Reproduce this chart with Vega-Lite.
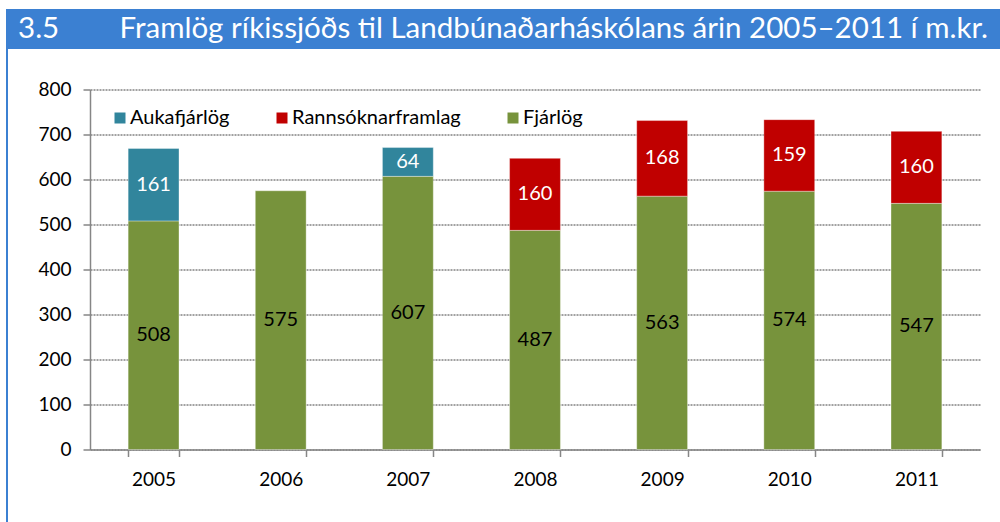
{
  "$schema": "https://vega.github.io/schema/vega-lite/v6.json",
  "padding": {"left": 6, "top": 9, "right": 0, "bottom": 0},
  "background": "white",
  "spacing": 0,
  "config": {"font": "Lato", "view": {"stroke": null}},
  "vconcat": [
    {
      "width": 994,
      "height": 40,
      "data": {"values": [{"title": "3.5\u00a0\u00a0\u00a0\u00a0\u00a0\u00a0\u00a0\u00a0Framlög ríkissjóðs til Landbúnaðarháskólans árin 2005–2011 í m.kr."}]},
      "layer": [
        {"mark": {"type": "rect", "color": "#3b80d2"}, "encoding": {}},
        {"mark": {"type": "text", "color": "white", "fontSize": 29.5, "baseline": "middle"}, "encoding": {"text": {"field": "title"}}}
      ]
    },
    {
      "spacing": 29,
      "hconcat": [
        {
          "width": 2,
          "height": 473,
          "data": {"values": [{}]},
          "mark": {"type": "rect", "color": "#3b80d2"},
          "encoding": {}
        },
        {
          "spacing": 11.5,
          "vconcat": [
            {
              "width": 1,
              "height": 20,
              "data": {"values": [{}]},
              "mark": {"type": "rect", "opacity": 0},
              "encoding": {}
            },
            {
              "width": 890,
              "height": 360,
              "data": {"values": [
                {"year": "2005", "type": "Fjárlög", "value": 508},
                {"year": "2005", "type": "Aukafjárlög", "value": 161},
                {"year": "2006", "type": "Fjárlög", "value": 575},
                {"year": "2007", "type": "Fjárlög", "value": 607},
                {"year": "2007", "type": "Aukafjárlög", "value": 64},
                {"year": "2008", "type": "Fjárlög", "value": 487},
                {"year": "2008", "type": "Rannsóknarframlag", "value": 160},
                {"year": "2009", "type": "Fjárlög", "value": 563},
                {"year": "2009", "type": "Rannsóknarframlag", "value": 168},
                {"year": "2010", "type": "Fjárlög", "value": 574},
                {"year": "2010", "type": "Rannsóknarframlag", "value": 159},
                {"year": "2011", "type": "Fjárlög", "value": 547},
                {"year": "2011", "type": "Rannsóknarframlag", "value": 160}
              ]},
              "encoding": {
                "x": {
                  "field": "year", "type": "ordinal",
                  "scale": {"paddingInner": 0.6, "paddingOuter": 0.3},
                  "axis": {"title": null, "labelAngle": 0, "tickBand": "extent", "domainColor": "#868686", "domainWidth": 1.5, "tickColor": "#868686", "tickWidth": 1.5, "tickSize": 7, "labelFontSize": 19, "labelColor": "black", "labelPadding": 14}
                },
                "y": {
                  "field": "value", "type": "quantitative", "stack": "zero",
                  "scale": {"domain": [0, 800]},
                  "axis": {"title": null, "values": [0, 100, 200, 300, 400, 500, 600, 700, 800], "grid": true, "gridColor": "#444444", "gridDash": [2, 1], "gridWidth": 1, "domainColor": "#868686", "domainWidth": 1.5, "tickColor": "#868686", "tickWidth": 1.5, "tickSize": 7, "labelFontSize": 19, "labelColor": "black", "labelPadding": 12}
                },
                "order": {"field": "value", "sort": "descending"}
              },
              "layer": [
                {
                  "mark": {"type": "bar", "stroke": "white", "strokeWidth": 0.6, "strokeOpacity": 0.6},
                  "encoding": {
                    "color": {
                      "field": "type", "type": "nominal",
                      "scale": {"domain": ["Aukafjárlög", "Rannsóknarframlag", "Fjárlög"], "range": ["#31859c", "#c00000", "#77933c"]},
                      "legend": {"title": null, "orient": "none", "legendX": 104, "legendY": 99, "direction": "horizontal", "symbolType": "square", "symbolSize": 121, "symbolStrokeWidth": 0, "labelFontSize": 20, "labelLimit": 0, "labelColor": "black", "columnPadding": 42, "labelOffset": 0, "padding": 0}
                    }
                  }
                },
                {
                  "mark": {"type": "text", "fontSize": 20, "baseline": "middle"},
                  "encoding": {
                    "y": {"field": "value", "type": "quantitative", "stack": "zero", "bandPosition": 0.5},
                    "detail": {"field": "type"},
                    "text": {"field": "value", "type": "quantitative"},
                    "color": {"condition": {"test": "datum.type === 'Fjárlög'", "value": "black"}, "value": "white"}
                  }
                }
              ]
            }
          ]
        }
      ]
    }
  ]
}
